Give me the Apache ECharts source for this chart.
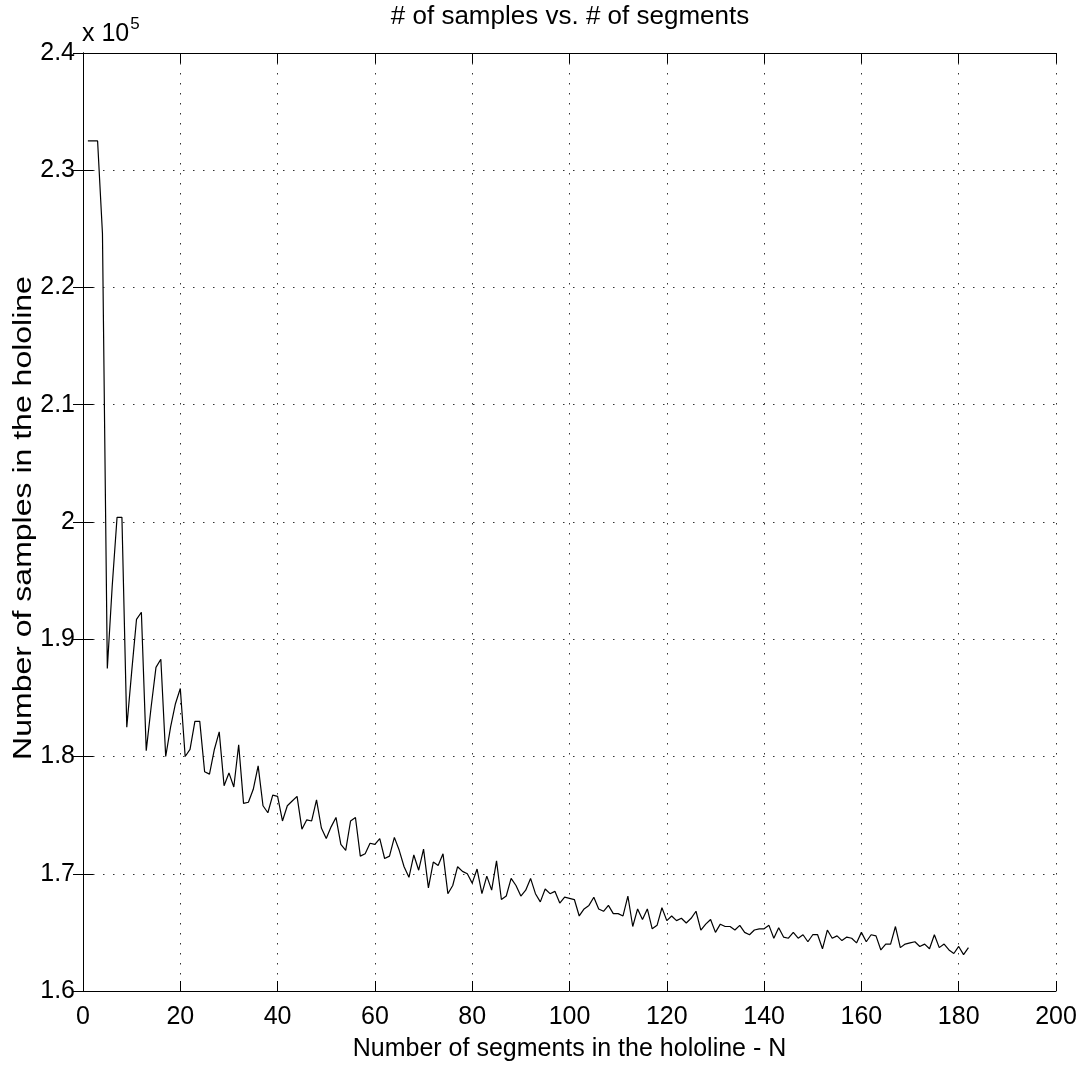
<!DOCTYPE html>
<html>
<head>
<meta charset="utf-8">
<script src="https://cdn.jsdelivr.net/npm/echarts@6/dist/echarts.min.js"></script>
<style>
  html, body { margin: 0; padding: 0; background: #fff; }
  #chart { width: 1086px; height: 1074px; }
</style>
</head>
<body>
<div id="chart"></div>
<script>
// number of segments N starts at 1, one sample count (x 10^5) per N
var firstSegment = 1;
var samples = [
  2.325, 2.325, 2.325, 2.246, 1.875, 1.945, 2.004, 2.004, 1.825, 1.872,
  1.917, 1.923, 1.805, 1.842, 1.876, 1.883, 1.800, 1.825, 1.845, 1.858,
  1.800, 1.806, 1.830, 1.830, 1.787, 1.785, 1.806, 1.821, 1.775, 1.786,
  1.774, 1.810, 1.760, 1.761, 1.772, 1.792, 1.758, 1.752, 1.767, 1.766,
  1.745, 1.758, 1.762, 1.766, 1.738, 1.746, 1.745, 1.763, 1.739, 1.730,
  1.740, 1.748, 1.725, 1.720, 1.745, 1.748, 1.715, 1.717, 1.726, 1.725,
  1.730, 1.713, 1.715, 1.731, 1.720, 1.706, 1.697, 1.716, 1.703, 1.721,
  1.688, 1.710, 1.707, 1.717, 1.683, 1.690, 1.706, 1.702, 1.700, 1.692,
  1.704, 1.683, 1.698, 1.686, 1.711, 1.678, 1.681, 1.696, 1.690, 1.681,
  1.686, 1.696, 1.683, 1.676, 1.687, 1.683, 1.685, 1.675, 1.680, 1.679,
  1.678, 1.664, 1.670, 1.673, 1.680, 1.670, 1.668, 1.673, 1.666, 1.666,
  1.664, 1.681, 1.655, 1.670, 1.661, 1.670, 1.653, 1.656, 1.671, 1.660,
  1.664, 1.660, 1.662, 1.658, 1.662, 1.668, 1.652, 1.657, 1.661, 1.650,
  1.657, 1.655, 1.655, 1.652, 1.656, 1.650, 1.648, 1.652, 1.653, 1.653,
  1.656, 1.645, 1.654, 1.646, 1.645, 1.650, 1.645, 1.648, 1.642, 1.648,
  1.648, 1.636, 1.652, 1.645, 1.647, 1.643, 1.646, 1.645, 1.641, 1.650,
  1.642, 1.648, 1.647, 1.635, 1.640, 1.640, 1.655, 1.637, 1.640, 1.641,
  1.642, 1.638, 1.640, 1.636, 1.648, 1.637, 1.640, 1.635, 1.632, 1.638,
  1.631, 1.637
];
var xTicks = [0, 20, 40, 60, 80, 100, 120, 140, 160, 180, 200];
var yTicks = [1.6, 1.7, 1.8, 1.9, 2.0, 2.1, 2.2, 2.3, 2.4];

var FONT = 'Liberation Sans, Arial, sans-serif';

var points = samples.map(function (v, i) { return [firstSegment + i, v]; });

var dotted = { type: [1.5, 8.5], color: '#333', width: 1 };

function yLabel(v) {
  return (Math.round(v * 10) / 10).toString();
}

var chart = echarts.init(document.getElementById('chart'));

var option = {
  backgroundColor: '#fff',
  animation: false,
  grid: { left: 83, top: 53, right: 30, bottom: 83, containLabel: false, outerBoundsMode: 'none' },
  xAxis: [
    {
      type: 'value',
      min: xTicks[0], max: xTicks[xTicks.length - 1], interval: 20,
      axisLine: { show: true, lineStyle: { color: '#000', width: 1 } },
      axisTick: { inside: true, length: 10, lineStyle: { color: '#000' } },
      axisLabel: { fontFamily: FONT, fontSize: 25, color: '#000', margin: 14 },
      splitLine: { show: true, lineStyle: dotted },
      name: 'Number of segments in the hololine - N',
      nameLocation: 'middle', nameGap: 46,
      nameTextStyle: { fontFamily: FONT, fontSize: 25, color: '#000' }
    },
    {
      type: 'value', position: 'top',
      min: xTicks[0], max: xTicks[xTicks.length - 1], interval: 20,
      axisLine: { show: true, lineStyle: { color: '#000', width: 1 } },
      axisTick: { inside: true, length: 10, lineStyle: { color: '#000' } },
      axisLabel: { show: false },
      splitLine: { show: false }
    }
  ],
  yAxis: [
    {
      type: 'value',
      min: yTicks[0], max: yTicks[yTicks.length - 1], interval: 0.1,
      axisLine: { show: true, lineStyle: { color: '#000', width: 1 } },
      axisTick: { inside: true, length: 10, lineStyle: { color: '#000' } },
      axisLabel: { fontFamily: FONT, fontSize: 25, color: '#000', margin: 8, formatter: yLabel },
      splitLine: { show: true, lineStyle: dotted }
    },
    {
      type: 'value', position: 'right',
      min: yTicks[0], max: yTicks[yTicks.length - 1], interval: 0.1,
      axisLine: { show: true, lineStyle: { color: '#000', width: 1 } },
      axisTick: { inside: true, length: 10, lineStyle: { color: '#000' } },
      axisLabel: { show: false },
      splitLine: { show: false }
    }
  ],
  graphic: [
    {
      type: 'text', x: 570, y: 4,
      style: { text: '# of samples vs. # of segments', fontFamily: FONT, fontSize: 26, fill: '#000', align: 'center', verticalAlign: 'top' }
    },
    {
      // y axis title, stretched along its length like the original export
      type: 'text', x: 24, y: 518, rotation: Math.PI / 2, scaleX: 1.28,
      style: { text: 'Number of samples in the hololine', fontFamily: FONT, fontSize: 25, fill: '#000', align: 'center', verticalAlign: 'middle' }
    },
    {
      type: 'text', left: 82, top: 16,
      style: {
        text: '{b|x 10}{s|5}',
        rich: {
          b: { fontFamily: FONT, fontSize: 25, fill: '#000', verticalAlign: 'bottom' },
          s: { fontFamily: FONT, fontSize: 17, fill: '#000', verticalAlign: 'top', padding: [0, 0, 14, 1] }
        }
      }
    }
  ],
  series: [
    {
      type: 'line',
      data: points,
      showSymbol: false,
      symbol: 'none',
      lineStyle: { color: '#000', width: 1.2 },
      xAxisIndex: 0, yAxisIndex: 0
    }
  ]
};

chart.setOption(option);
</script>
</body>
</html>
